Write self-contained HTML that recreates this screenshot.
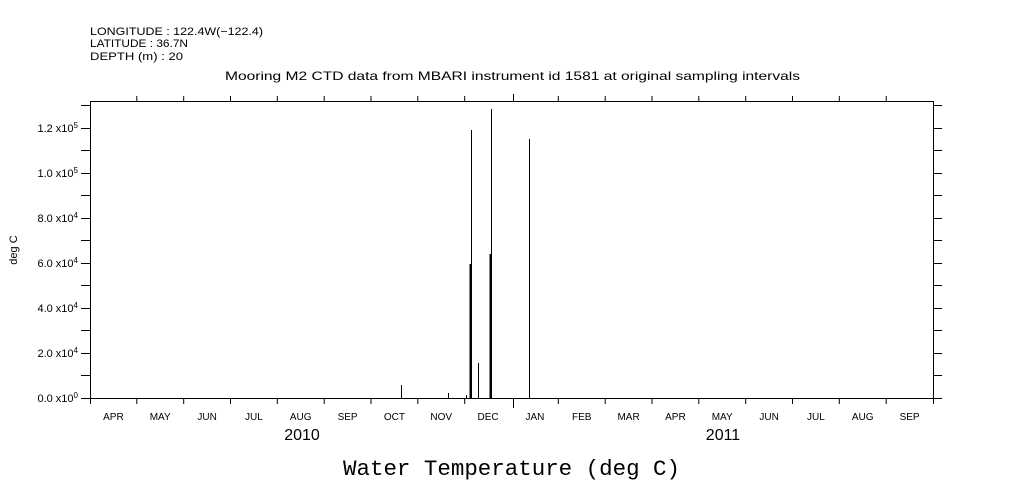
<!DOCTYPE html>
<html><head><meta charset="utf-8"><style>
html,body{margin:0;padding:0;background:#fff;}
svg{display:block;}
text{font-family:"Liberation Sans",sans-serif;fill:#000;}
</style></head><body>
<svg width="1009" height="504" viewBox="0 0 1009 504" xmlns="http://www.w3.org/2000/svg">
<text x="90" y="35" font-size="11" textLength="173" lengthAdjust="spacingAndGlyphs">LONGITUDE : 122.4W(−122.4)</text>
<text x="90" y="47" font-size="11" textLength="98" lengthAdjust="spacingAndGlyphs">LATITUDE : 36.7N</text>
<text x="90" y="60" font-size="11" textLength="93" lengthAdjust="spacingAndGlyphs">DEPTH (m) : 20</text>
<text x="225" y="80" font-size="12" textLength="575" lengthAdjust="spacingAndGlyphs">Mooring M2 CTD data from MBARI instrument id 1581 at original sampling intervals</text>

<rect x="90.5" y="101.5" width="843" height="297" fill="none" stroke="#000" stroke-width="1"/>
<path stroke="#000" stroke-width="1" fill="none" d="
M81 398.5H90 M81 375.5H90 M81 353.5H90 M81 330.5H90 M81 308.5H90 M81 285.5H90 M81 263.5H90 M81 240.5H90 M81 218.5H90 M81 195.5H90 M81 173.5H90 M81 150.5H90 M81 128.5H90 M81 105.5H90
M934 398.5H942 M934 375.5H942 M934 353.5H942 M934 330.5H942 M934 308.5H942 M934 285.5H942 M934 263.5H942 M934 240.5H942 M934 218.5H942 M934 195.5H942 M934 173.5H942 M934 150.5H942 M934 128.5H942 M934 105.5H942
M90.5 398V404 M136.8 398V404 M183.7 398V404 M230.5 398V404 M277.3 398V404 M324.2 398V404 M371 398V404 M417.8 398V404 M464.7 398V404 M513.5 398V408 M558.3 398V404 M605.2 398V404 M652 398V404 M698.8 398V404 M745.7 398V404 M792.5 398V404 M839.3 398V404 M886.2 398V404 M933.5 398V404
M136.8 101V96 M183.7 101V96 M230.5 101V96 M277.3 101V96 M324.2 101V96 M371 101V96 M417.8 101V96 M464.7 101V96 M513.5 101V94 M558.3 101V96 M605.2 101V96 M652 101V96 M698.8 101V96 M745.7 101V96 M792.5 101V96 M839.3 101V96 M886.2 101V96
"/>
<g font-size="11" text-anchor="end">
<text x="78" y="402">0.0 x10<tspan font-size="8" dy="-4">0</tspan></text>
<text x="78" y="357">2.0 x10<tspan font-size="8" dy="-4">4</tspan></text>
<text x="78" y="312">4.0 x10<tspan font-size="8" dy="-4">4</tspan></text>
<text x="78" y="267">6.0 x10<tspan font-size="8" dy="-4">4</tspan></text>
<text x="78" y="222">8.0 x10<tspan font-size="8" dy="-4">4</tspan></text>
<text x="78" y="177">1.0 x10<tspan font-size="8" dy="-4">5</tspan></text>
<text x="78" y="132">1.2 x10<tspan font-size="8" dy="-4">5</tspan></text>
</g>
<text x="17" y="250" font-size="11" text-anchor="middle" transform="rotate(-90 17 250)">deg C</text>
<g font-size="10" text-anchor="middle">
<text x="113.4" y="420">APR</text><text x="160.2" y="420">MAY</text><text x="207.1" y="420">JUN</text><text x="253.9" y="420">JUL</text><text x="300.7" y="420">AUG</text><text x="347.6" y="420">SEP</text><text x="394.4" y="420">OCT</text><text x="441.2" y="420">NOV</text><text x="488.1" y="420">DEC</text><text x="534.9" y="420">JAN</text><text x="581.7" y="420">FEB</text><text x="628.6" y="420">MAR</text><text x="675.4" y="420">APR</text><text x="722.2" y="420">MAY</text><text x="769.1" y="420">JUN</text><text x="815.9" y="420">JUL</text><text x="862.7" y="420">AUG</text><text x="909.6" y="420">SEP</text>
</g>
<text x="302" y="440" font-size="16" text-anchor="middle">2010</text>
<text x="723" y="440" font-size="16" text-anchor="middle">2011</text>
<text x="343" y="475" font-size="22" textLength="337" lengthAdjust="spacingAndGlyphs" style="font-family:'Liberation Mono',monospace">Water Temperature (deg C)</text>
<path stroke="#000" fill="none" stroke-width="1" d="M401.5 398V385 M448.5 398V393 M466.5 398V395 M471.5 398V130 M478.5 398V363 M491.5 398V109 M529.5 398V139"/>
<path stroke="#000" fill="none" stroke-width="2" d="M470.5 398V264 M490.5 398V254"/>
</svg>
</body></html>
